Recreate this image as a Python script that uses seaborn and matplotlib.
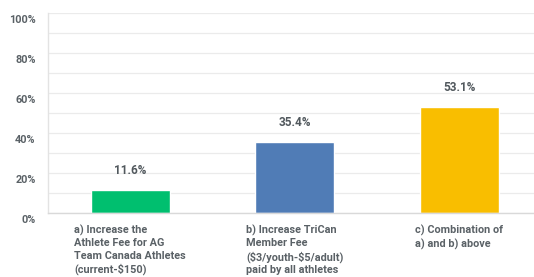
import matplotlib
matplotlib.use("Agg")
import matplotlib.pyplot as plt
import matplotlib.transforms as mtransforms
import seaborn as sns
import pandas as pd

categories = [
    "a) Increase the\nAthlete Fee for AG\nTeam Canada Athletes\n(current-\\$150)",
    "b) Increase TriCan\nMember Fee\n(\\$3/youth-\\$5/adult)\npaid by all athletes",
    "c) Combination of\na) and b) above",
]
values = [11.6, 35.4, 53.1]
colors = ["#00BF6F", "#507CB6", "#F9BE00"]
yticks = [0, 20, 40, 60, 80, 100]
ytick_labels = ["0%", "20%", "40%", "60%", "80%", "100%"]

df = pd.DataFrame({"cat": categories, "val": values})

sns.set_theme(style="white")
plt.rcParams["font.family"] = ["Roboto", "DejaVu Sans"]

fig = plt.figure(figsize=(5.34, 2.77), dpi=100)
W, H = 534, 277
ax = fig.add_axes([48 / W, 1 - 213 / H, (541.5 - 48) / W, 200 / H])

sns.barplot(data=df, x="cat", y="val", hue="cat", palette=colors, legend=False,
            width=0.48, ax=ax, saturation=1)

ax.set_xlim(-0.5, 2.5)
ax.set_ylim(0, 100)
ax.set_axisbelow(True)
ax.set_yticks(yticks)
ax.set_yticks(range(10, 100, 20), minor=True)
ax.yaxis.grid(True, which="both", color="#ebebeb", linewidth=0.9)
ax.set_yticklabels(ytick_labels, fontsize=7.8, fontweight="bold", color="#5a6166")
ax.tick_params(axis="y", length=0, pad=9, which="both")
offset = mtransforms.ScaledTranslation(0, -4 / 72, fig.dpi_scale_trans)
for lbl in ax.get_yticklabels():
    lbl.set_transform(lbl.get_transform() + offset)

ax.set_xticks(range(len(categories)))
ax.set_xticklabels([])
ax.tick_params(axis="x", length=0)
ax.set_xlabel("")
ax.set_ylabel("")

for s in ["top", "right"]:
    ax.spines[s].set_visible(False)
ax.spines["left"].set_color("#e3e3e3")
ax.spines["bottom"].set_color("#d9d9d9")
ax.spines["left"].set_linewidth(1.0)
ax.spines["bottom"].set_linewidth(1.0)

for i, (c, v) in enumerate(zip(categories, values)):
    ax.annotate(f"{v:.1f}%", xy=(i, v), xytext=(0, 14), textcoords="offset points",
                ha="center", va="center", fontsize=8.5, fontweight="bold",
                color="#51585d")
    ax.annotate(c, xy=(i, 0), xytext=(0, -8.5), textcoords="offset points",
                ha="center", va="top", multialignment="left",
                fontsize=7.8, fontweight="bold", color="#5a6166",
                linespacing=1.3, annotation_clip=False)

fig.savefig("out.png", dpi=100)
